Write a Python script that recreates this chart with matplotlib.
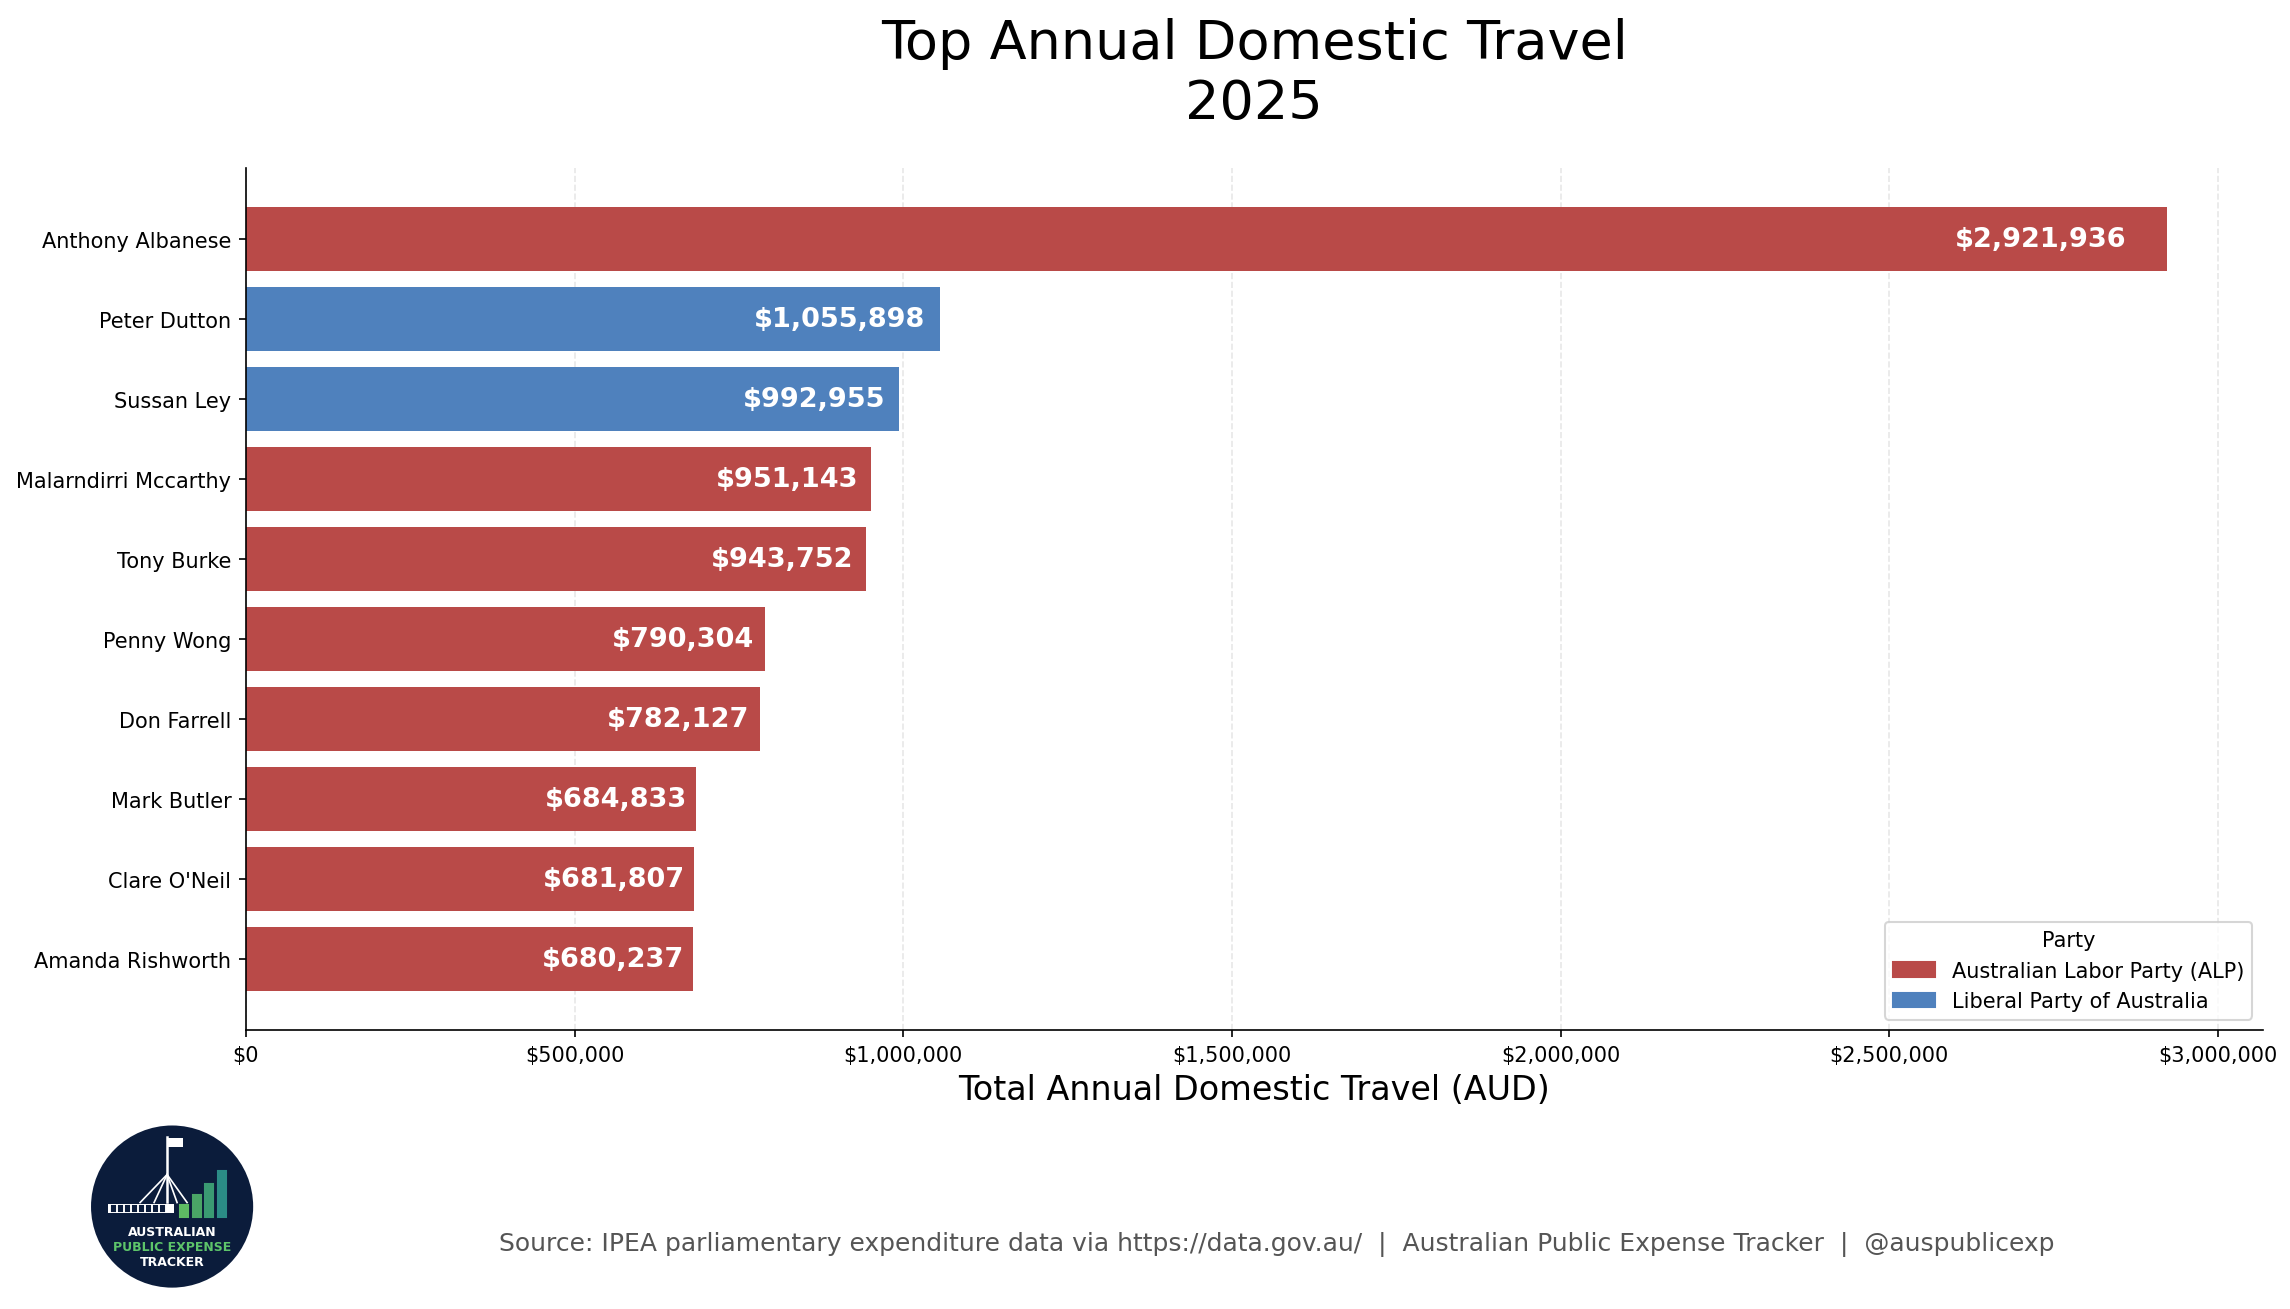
import matplotlib
matplotlib.use("Agg")
import matplotlib.pyplot as plt
from matplotlib.patches import Circle, Rectangle, Patch
from matplotlib.ticker import FuncFormatter

# data
names = ["Anthony Albanese", "Peter Dutton", "Sussan Ley", "Malarndirri Mccarthy",
         "Tony Burke", "Penny Wong", "Don Farrell", "Mark Butler",
         "Clare O'Neil", "Amanda Rishworth"]
amounts = [2921936, 1055898, 992955, 951143, 943752, 790304, 782127, 684833, 681807, 680237]
parties = ["ALP", "LIB", "LIB", "ALP", "ALP", "ALP", "ALP", "ALP", "ALP", "ALP"]

party_names = {"ALP": "Australian Labor Party (ALP)", "LIB": "Liberal Party of Australia"}
party_colors = {"ALP": "#B94A48", "LIB": "#4F81BD"}

fig = plt.figure(figsize=(2290 / 150, 1310 / 150), dpi=150)
ax = fig.add_axes([0.1074, 0.213, 0.8807, 0.658])

ypos = list(range(len(names)))
colors = [party_colors[p] for p in parties]
ax.barh(ypos, amounts, color=colors, height=0.8, zorder=2)
ax.invert_yaxis()
ax.set_yticks(ypos)
ax.set_yticklabels(names, fontsize=10)
ax.set_xlim(0, max(amounts) * 1.05)

ax.xaxis.set_major_formatter(FuncFormatter(lambda v, p: f"${v:,.0f}"))
ax.tick_params(axis="x", labelsize=10)
ax.grid(axis="x", linestyle="--", color="#dddddd", alpha=0.7, zorder=0)
for s in ["top", "right"]:
    ax.spines[s].set_visible(False)

# value labels inside the bar ends
for y, v in zip(ypos, amounts):
    ax.text(v * 0.979, y, f"${v:,.0f}", ha="right", va="center",
            color="white", fontsize=13, fontweight="bold", zorder=3)

ax.set_xlabel("Total Annual Domestic Travel (AUD)", fontsize=16)
ax.set_title("Top Annual Domestic Travel\n2025", fontsize=26, pad=24)

handles = [Patch(color=party_colors[k], label=party_names[k]) for k in ["ALP", "LIB"]]
ax.legend(handles=handles, title="Party", loc="lower right", fontsize=10,
          title_fontsize=10)

fig.text(0.5575, 0.05, "Source: IPEA parliamentary expenditure data via https://data.gov.au/  |  "
         "Australian Public Expense Tracker  |  @auspublicexp",
         ha="center", va="center", fontsize=12, color="#555555")

# logo
lg = fig.add_axes([0.0751 - 0.0384, 0.0782 - 0.0672, 0.0769, 0.1344])
lg.set_xlim(-88, 88)
lg.set_ylim(-88, 88)
lg.set_aspect("equal")
lg.axis("off")
lg.add_patch(Circle((0, 0), 80, color="#0B1C3B"))
lg.add_patch(Rectangle((-64, -6), 66, 9, facecolor="white", edgecolor="none"))
for k in range(8):
    lg.add_patch(Rectangle((-60 + k * 7, -4), 3, 5, color="#0B1C3B"))
lg.plot([-5, -5], [5, 70], color="white", lw=1.2)
lg.add_patch(Rectangle((-5, 60), 16, 9, facecolor="white", edgecolor="none"))
for dx in [-32, -18, 5, 15]:
    lg.plot([-5, dx], [32, 4], color="white", lw=0.8)
bar_cols = ["#5DBB63", "#4AA566", "#3A9A72", "#2B8C86"]
bar_h = [12, 22, 33, 46]
for i, (c, h) in enumerate(zip(bar_cols, bar_h)):
    lg.add_patch(Rectangle((8 + i * 12.5, -10), 8, h, color=c))
lg.text(0, -25, "AUSTRALIAN", color="white", fontsize=6, fontweight="bold",
        ha="center", va="center")
lg.text(0, -40, "PUBLIC EXPENSE", color="#5DC46A", fontsize=6, fontweight="bold",
        ha="center", va="center")
lg.text(0, -55, "TRACKER", color="white", fontsize=6, fontweight="bold",
        ha="center", va="center")

fig.savefig("out.png", dpi=150)
